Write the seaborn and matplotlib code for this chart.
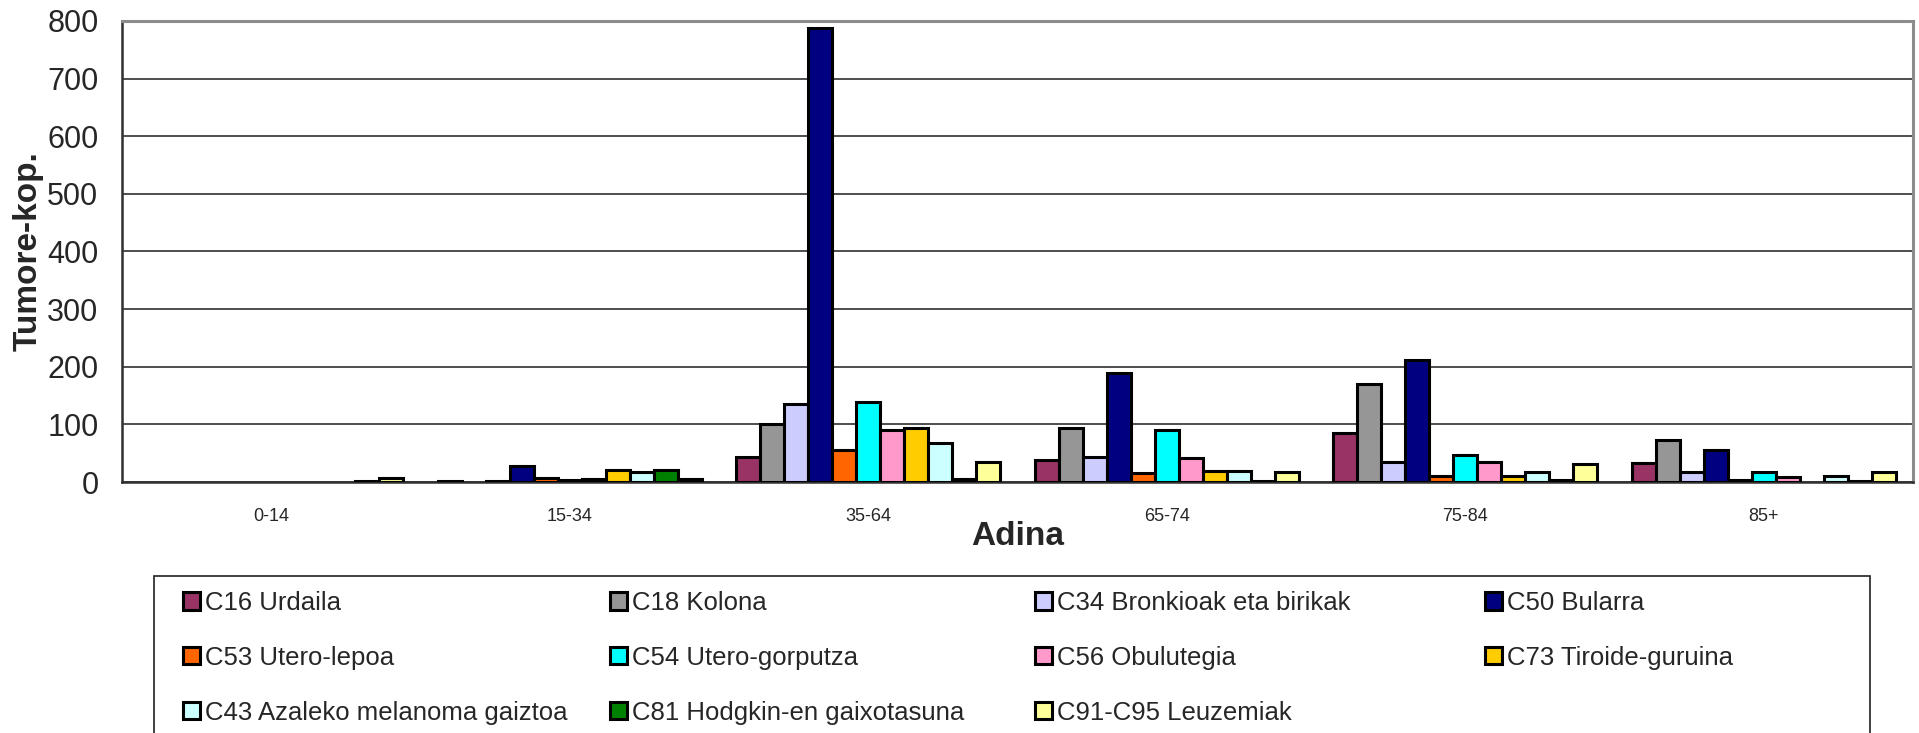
import numpy as np
import pandas as pd
import matplotlib
matplotlib.use("Agg")
import matplotlib.pyplot as plt
from matplotlib.patches import Rectangle
import seaborn as sns

# age groups and tumour sites
ages = ['0-14', '15-34', '35-64', '65-74', '75-84', '85+']
sites = ['C16 Urdaila', 'C18 Kolona', 'C34 Bronkioak eta birikak', 'C50 Bularra',
         'C53 Utero-lepoa', 'C54 Utero-gorputza', 'C56 Obulutegia', 'C73 Tiroide-guruina',
         'C43 Azaleko melanoma gaiztoa', 'C81 Hodgkin-en gaixotasuna', 'C91-C95 Leuzemiak']
colors = ['#993366', '#969696', '#CCCCFF', '#000080', '#FF6600', '#00FFFF',
          '#FF99CC', '#FFCC00', '#CCFFFF', '#008000', '#FFFF99']

# counts per age group, in site order
c16 = [0, 1, 44, 38, 85, 33]
c18 = [0, 0, 101, 93, 170, 73]
c34 = [0, 2, 135, 43, 34, 17]
c50 = [0, 27, 788, 190, 212, 56]
c53 = [0, 7, 56, 15, 10, 3]
c54 = [0, 3, 139, 91, 47, 17]
c56 = [0, 5, 90, 42, 34, 9]
c73 = [0, 20, 93, 19, 10, 0]
c43 = [0, 17, 67, 19, 17, 11]
c81 = [1, 21, 6, 1, 3, 2]
c91 = [7, 6, 34, 18, 31, 17]

values = [c16, c18, c34, c50, c53, c54, c56, c73, c43, c81, c91]
rows = []
for site, vals in zip(sites, values):
    for age, v in zip(ages, vals):
        rows.append({'Adina': age, 'site': site, 'count': v})
df = pd.DataFrame(rows)

sns.set_style('white')
plt.rcParams['font.family'] = ['Liberation Sans', 'DejaVu Sans']

W, H = 1919, 733
fig = plt.figure(figsize=(W / 100, H / 100), dpi=100)
ax = fig.add_axes([122 / W, 1 - 482 / H, (1913 - 122) / W, (482 - 21) / H])

sns.barplot(data=df, x='Adina', y='count', hue='site', hue_order=sites, order=ages,
            palette=colors, width=0.886, edgecolor='black', linewidth=2.2,
            saturation=1, errorbar=None, ax=ax, legend=True, zorder=3)

# hide zero-height bars (Excel draws nothing for them)
for cont in ax.containers:
    for p in cont:
        if p.get_height() == 0:
            p.set_visible(False)

ax.set_ylim(0, 800)
ax.set_yticks(range(0, 801, 100))
ax.yaxis.grid(True, color='#303030', linewidth=1.2, zorder=0)
ax.set_axisbelow(True)
ax.set_xlim(-0.5, len(ages) - 0.5)
ax.set_xticks(np.arange(-0.5, len(ages)), minor=True)
ax.tick_params(axis='x', which='major', length=0, pad=19, labelsize=13)
ax.tick_params(axis='x', which='minor', length=6, width=1.2, color='#303030', direction='out')
ax.tick_params(axis='y', length=9, width=1.2, color='black', direction='out', labelsize=22, pad=8)

for s in ['left', 'bottom']:
    ax.spines[s].set_color('#303030')
    ax.spines[s].set_linewidth(1.8)
for s in ['top', 'right']:
    ax.spines[s].set_color('#8c8c8c')
    ax.spines[s].set_linewidth(2.2)

ax.set_xlabel('Adina', fontsize=24, fontweight='bold')
ax.set_ylabel('Tumore-kop.', fontsize=24, fontweight='bold')
ax.xaxis.set_label_coords(0.5, -0.085)
ax.yaxis.set_label_coords(-0.044, 0.5)

handles, labels = ax.get_legend_handles_labels()
ax.get_legend().remove()

# legend laid out in four columns like the Excel original
col_x = [183, 610, 1035, 1485]
cols = [[0, 4, 8], [1, 5, 9], [2, 6, 10], [3, 7]]
for x, idx in zip(col_x, cols):
    fig.legend([handles[i] for i in idx], [labels[i] for i in idx],
               loc='upper left', bbox_to_anchor=(x / W, 1 - 591 / H),
               fontsize=18.5, frameon=False,
               handlelength=0.65, handleheight=0.65, handletextpad=0.2,
               labelspacing=1.2, borderpad=0, borderaxespad=0)

fig.add_artist(Rectangle((154 / W, -0.02), (1870 - 154) / W, 1 - 576 / H + 0.02,
                         transform=fig.transFigure, fill=False,
                         edgecolor='#202020', linewidth=1.2))

fig.savefig('out.png', dpi=100)
